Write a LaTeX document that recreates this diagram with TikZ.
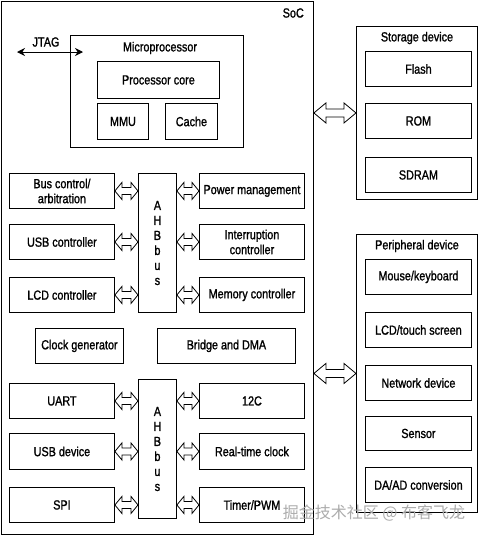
\documentclass[tikz,border=0pt]{standalone}
\usepackage{fontspec}
\setmainfont{Liberation Sans}[FakeStretch=0.82,FakeBold=1.2]
\newfontfamily\cjkwm{Noto Sans CJK SC}
\usetikzlibrary{calc,arrows.meta}
\newcommand\fs{\fontsize{13.2}{15}\selectfont}
\newcommand\bx[6]{\node[box, anchor=north west, minimum width={#4-#2}, minimum height={#5-#3}] (#1) at (#2,#3) {#6};}
\newcommand\darrow[5]{\draw[hollowarr] let \p1=#1, \p2=#2 in
  (\x1,\y1) -- (\x1+#5,\y1+#3) -- (\x1+#5,\y1+#4) -- (\x2-#5,\y1+#4) -- (\x2-#5,\y1+#3) --
  (\x2,\y1) -- (\x2-#5,\y1-#3) -- (\x2-#5,\y1-#4) -- (\x1+#5,\y1-#4) -- (\x1+#5,\y1-#3) -- cycle;}
\begin{document}
\begin{tikzpicture}[x=1pt,y=-1pt,
  box/.style={draw, line width=0.9pt, inner sep=1pt, align=center, font=\fs},
  ttl/.style={font=\fs, inner sep=0pt},
  hollowarr/.style={draw, line width=0.8pt, fill=white, line join=miter},
  jtagarr/.style={line width=1pt, {Stealth[length=8pt,width=8pt]}-{Stealth[length=8pt,width=8pt]}}]
\fill[white] (0,0) rectangle (480,536);
\useasboundingbox (0,0) rectangle (480,536);
% SoC
\bx{soc}{1}{1}{313}{534}{}
\node[ttl, anchor=east] (soclbl) at (304,13) {SoC};
% Microprocessor
\bx{micro}{70}{35}{243}{147}{}
\node[ttl] (microlbl) at (160,48) {Microprocessor};
\bx{core}{97}{61}{219}{98}{Processor core}
\bx{mmu}{97}{103}{148}{139}{MMU}
\bx{cache}{165}{103}{217}{139}{Cache}
% JTAG
\node[ttl] (jtaglbl) at (46,42) {JTAG};
\coordinate (jtagL) at (17,52);
\coordinate (jtagR) at (83,52);
\draw[jtagarr] (jtagL) -- (jtagR);
% first AHB bus
\bx{bus1}{138}{173}{176}{312}{A\\H\\B\\b\\u\\s}
\bx{bc}{9}{173}{114}{208}{Bus control/\\arbitration}
\bx{usbc}{9}{224}{114}{259}{USB controller}
\bx{lcdc}{9}{277}{114}{312}{LCD controller}
\bx{pm}{199}{173}{304}{208}{Power management}
\bx{ic}{199}{224}{304}{259}{Interruption\\controller}
\bx{mc}{199}{277}{304}{312}{Memory controller}
\bx{clk}{35}{328}{123}{363}{Clock generator}
\bx{dma}{157}{328}{295}{363}{Bridge and DMA}
% second AHB bus
\bx{bus2}{138}{379}{176}{518}{A\\H\\B\\b\\u\\s}
\bx{uart}{9}{383}{114}{418}{UART}
\bx{usbd}{9}{433}{114}{469}{USB device}
\bx{spi}{9}{487}{114}{522}{SPI}
\bx{iic}{199}{383}{304}{418}{12C}
\bx{rtc}{199}{433}{304}{469}{Real-time clock}
\bx{tmr}{199}{487}{304}{522}{Timer/PWM}
% bus arrows
\darrow{(bc.east)}{(bus1.west |- bc.east)}{8.5pt}{3.5pt}{7pt}
\darrow{(usbc.east)}{(bus1.west |- usbc.east)}{8.5pt}{3.5pt}{7pt}
\darrow{(lcdc.east)}{(bus1.west |- lcdc.east)}{8.5pt}{3.5pt}{7pt}
\darrow{(bus1.east |- pm.west)}{(pm.west)}{8.5pt}{3.5pt}{7pt}
\darrow{(bus1.east |- ic.west)}{(ic.west)}{8.5pt}{3.5pt}{7pt}
\darrow{(bus1.east |- mc.west)}{(mc.west)}{8.5pt}{3.5pt}{7pt}
\darrow{(uart.east)}{(bus2.west |- uart.east)}{8.5pt}{3.5pt}{7pt}
\darrow{(usbd.east)}{(bus2.west |- usbd.east)}{8.5pt}{3.5pt}{7pt}
\darrow{(spi.east)}{(bus2.west |- spi.east)}{8.5pt}{3.5pt}{7pt}
\darrow{(bus2.east |- iic.west)}{(iic.west)}{8.5pt}{3.5pt}{7pt}
\darrow{(bus2.east |- rtc.west)}{(rtc.west)}{8.5pt}{3.5pt}{7pt}
\darrow{(bus2.east |- tmr.west)}{(tmr.west)}{8.5pt}{3.5pt}{7pt}
% Storage device
\bx{stor}{356}{26}{477}{199}{}
\node[ttl] (storlbl) at (417,38) {Storage device};
\bx{flash}{365}{51}{471}{86}{Flash}
\bx{rom}{365}{103}{471}{138}{ROM}
\bx{sdram}{365}{157}{471}{192}{SDRAM}
% Peripheral device
\bx{peri}{356}{234}{477}{512}{}
\node[ttl] (perilbl) at (417,246) {Peripheral device};
\bx{mouse}{365}{259}{471}{294}{Mouse/keyboard}
\bx{touch}{365}{312}{471}{347}{LCD/touch screen}
\bx{net}{365}{365}{471}{400}{Network device}
\bx{sensor}{365}{416}{471}{450}{Sensor}
\bx{daad}{365}{467}{471}{502}{DA/AD conversion}
% SoC external arrows
\darrow{(soc.east |- stor.west)}{(stor.west)}{10pt}{4pt}{12pt}
\darrow{(soc.east |- peri.west)}{(peri.west)}{10pt}{4pt}{12pt}
% watermark
\node[font=\cjkwm\fontsize{16}{16}\selectfont, text=gray!65, inner sep=0pt] (wm) at (374,513) {掘金技术社区 @ 布客飞龙};
\end{tikzpicture}
\end{document}
